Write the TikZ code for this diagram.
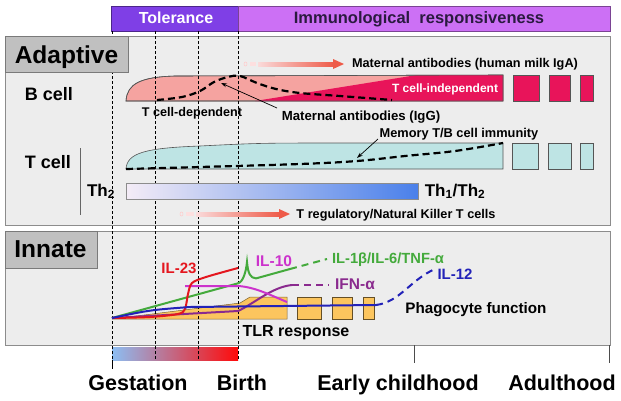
\documentclass[tikz,border=0pt]{standalone}
\usepackage{fontspec}
\setmainfont{Liberation Sans}
\usetikzlibrary{arrows.meta}
\newcommand\myfs[1]{\fontsize{#1}{#1}\selectfont\bfseries}
\definecolor{tolc}{HTML}{7F3FE6}
\definecolor{immc}{HTML}{CC70F5}
\definecolor{immt}{HTML}{2B1A40}
\definecolor{panelc}{HTML}{EDEDED}
\definecolor{panelb}{HTML}{8C8C8C}
\definecolor{tagc}{HTML}{C0C0C0}
\definecolor{tagb}{HTML}{7A7A7A}
\definecolor{pinkc}{HTML}{F5A3A0}
\definecolor{magc}{HTML}{E8145A}
\definecolor{tealc}{HTML}{BEE4E4}
\definecolor{orc}{HTML}{FCC55E}
\definecolor{arrL}{HTML}{FADADA}
\definecolor{arrR}{HTML}{EE5A48}
\definecolor{thL}{HTML}{F4ECF6}
\definecolor{thR}{HTML}{4A80EA}
\definecolor{gbL}{HTML}{8CBEF3}
\definecolor{gbM}{HTML}{C98FC0}
\definecolor{gbR}{HTML}{FF0A0A}
\definecolor{redc}{HTML}{E4161E}
\definecolor{magl}{HTML}{CC33CC}
\definecolor{grnc}{HTML}{44AA3C}
\definecolor{purc}{HTML}{8A2A8E}
\definecolor{bluc}{HTML}{2222B8}
\definecolor{shapeb}{HTML}{555555}
\begin{document}
\begin{tikzpicture}[x=1pt,y=-1pt,
  lbl/.style={inner sep=0pt, anchor=base},
  vdash/.style={dash pattern=on 3pt off 2pt, line width=0.6pt, black},
  panel/.style={fill=panelc, draw=panelb, line width=0.9pt},
  tagbox/.style={fill=tagc, draw=tagb, line width=0.9pt},
  shp/.style={draw=shapeb, line width=0.6pt},
  bdash/.style={black, line width=2.2pt, dash pattern=on 7pt off 4pt},
  curve/.style={line width=2pt},
  cdash/.style={line width=2pt, dash pattern=on 7pt off 5pt},
  ptr/.style={-{Stealth[length=6pt,width=4pt]}, line width=0.7pt, black}]
\useasboundingbox (0,0) rectangle (621,400);
\fill[white] (0,0) rectangle (621,400);
% top bar
\draw[fill=tolc, draw=tolc!60!black, line width=0.6pt] (111,6) rectangle (238,31);
\draw[fill=immc, draw=immc!60!black, line width=0.6pt] (238,6) rectangle (610,31);
% panels
\draw[panel] (5,36) rectangle (610,225);
\draw[panel] (5,231) rectangle (610,345);
% B cell shapes
\draw[shp, fill=pinkc] (126,101) .. controls (127,84) and (140,77) .. (175,76) -- (503,75) -- (503,101) -- cycle;
\fill[magc] (255,101) -- (417,75) -- (503,75) -- (503,101) -- cycle;
\draw[shp] (126,101) .. controls (127,84) and (140,77) .. (175,76) -- (503,75) -- (503,101) -- cycle;
\foreach \a/\b in {513/539, 549/570, 580/593} \draw[shp, fill=magc] (\a,75) rectangle (\b,101);
% T cell shapes
\draw[shp, fill=tealc] (126,169) .. controls (127,153) and (145,148) .. (200,146) .. controls (260,143) .. (350,143) -- (503,143) -- (503,169) -- cycle;
\foreach \a/\b in {512/538, 548/571, 580/593} \draw[shp, fill=tealc] (\a,143) rectangle (\b,169);
% innate orange shapes
\draw[draw=orc!50!black, line width=0.5pt, fill=orc] (112,319) -- (240,303) -- (250,297) -- (287,297) -- (287,319) -- cycle;
\foreach \a/\b in {297/321, 332/352, 363/374} \draw[draw=orc!40!black, line width=0.6pt, fill=orc] (\a,297) rectangle (\b,319);
% bottom gradient bar
\shade[left color=gbL, middle color=gbM, right color=gbR] (112,347) rectangle (238,360);
% vertical dashed lines
\foreach \x in {112,155,198,238} \draw[vdash] (\x,31) -- (\x,360);
% ticks
\draw[black, line width=0.6pt] (112,360) -- (112,369);
\draw[black!70, line width=0.8pt] (414,345) -- (414,363);
\draw[black!70, line width=0.8pt] (609,345) -- (609,363);
% dashed IgG curve
\draw[bdash] plot[smooth, tension=0.6] coordinates {(157,100) (182,97) (200,91) (214,82) (228,77) (240,76) (257,83) (276,89) (300,93) (340,96) (392,100)};
% memory curve
\draw[bdash] plot[smooth, tension=0.6] coordinates {(126,169) (200,167) (300,164) (357,161) (405,156) (455,151) (503,143)};
% Th2 bar
\shade[left color=thL, right color=thR, draw=panelb, line width=0.6pt] (126,183) rectangle (418,199);
\draw[panelb, line width=0.6pt] (126,183) rectangle (418,199);
% T cell vertical bar
\draw[black!60, line width=1pt] (80,148) -- (80,215);
% innate curves
\draw[curve, grnc] (112,318) -- (238,283.3) .. controls (243,282) and (246,272) .. (247,262) .. controls (248,273) and (250,278) .. (256,278.4) -- (290,269);
\draw[cdash, grnc] (290,269) -- (327,259);
\draw[curve, purc] (112,318) -- (238,311) .. controls (255,303) and (272,287) .. (292,285);
\draw[cdash, purc] (292,285) -- (329,285);
\draw[curve, magl] (185,286) -- (238,286) .. controls (255,287) and (270,295) .. (287,302);
\draw[curve, redc] plot[smooth, tension=0.5] coordinates {(112,318) (150,317) (178,314) (185,309) (188,294) (192,283) (206,277) (238,268)};
\draw[curve, bluc] (112,318) .. controls (150,310) .. (190,307) -- (376,305);
\draw[cdash, bluc] (376,305) .. controls (400,302) and (410,280) .. (435,269);
% tag boxes
\draw[tagbox] (5,36) rectangle (128,72);
\draw[tagbox] (5,231) rectangle (97,268);
% pink gradient arrows
\draw[arrL!60!red!40, line width=0.6pt] (245.5,64) ellipse (1.5 and 2);
\fill[arrL!80!red!40] (250,62) rectangle (256,66);
\shade[left color=arrL, right color=arrR] (258,62) rectangle (334,66);
\fill[arrR] (333,59) -- (344,64) -- (333,69) -- cycle;
\draw[arrL!60!red!40, line width=0.6pt] (181.5,214) ellipse (1.5 and 2);
\fill[arrL!80!red!40] (186,212) rectangle (194,216);
\shade[left color=arrL, right color=arrR] (196,212) rectangle (280,216);
\fill[arrR] (279,209) -- (290,214) -- (279,219) -- cycle;
% texts
\node[lbl, white, font=\myfs{16}] (tol) at (176,23.7) {Tolerance};
\node[lbl, immt, font=\myfs{16.5}] (imm) at (419,23.9) {Immunological\ \ responsiveness};
\node[lbl, font=\myfs{24.5}] (adap) at (66.5,63) {Adaptive};
\node[lbl, font=\myfs{24.5}] (innate) at (50.5,257) {Innate};
\node[lbl, font=\myfs{18}] (bcell) at (49,100) {B cell};
\node[lbl, font=\myfs{18}] (tcell) at (48,168) {T cell};
\node[lbl, font=\myfs{12.7}] (iga) at (465,67) {Maternal antibodies (human milk IgA)};
\node[lbl, white, font=\myfs{12}] (tind) at (445,92) {T cell-independent};
\node[lbl, font=\myfs{12.6}] (tdep) at (192,116) {T cell-dependent};
\node[lbl, font=\myfs{13.2}] (igg) at (361,120) {Maternal antibodies (IgG)};
\node[lbl, font=\myfs{12.8}] (mem) at (459,137) {Memory T/B cell immunity};
\node[lbl, font=\myfs{17}] (th2) at (101,196) {Th\textsubscript{2}};
\node[lbl, font=\myfs{17}] (th12) at (455,196) {Th\textsubscript{1}/Th\textsubscript{2}};
\node[lbl, font=\myfs{12.7}] (treg) at (396,218) {T regulatory/Natural Killer T cells};
\node[lbl, redc, font=\myfs{15}] (il23) at (179,273) {IL-23};
\node[lbl, magl, font=\myfs{15.5}] (il10) at (274,266) {IL-10};
\node[lbl, grnc, font=\myfs{14.7}] (il1) at (388,263) {IL-1β/IL-6/TNF-α};
\node[lbl, purc, font=\myfs{15.5}] (ifn) at (355,289) {IFN-α};
\node[lbl, bluc, font=\myfs{15}] (il12) at (455,279) {IL-12};
\node[lbl, font=\myfs{15.2}] (phago) at (476,313) {Phagocyte function};
\node[lbl, font=\myfs{16}] (tlr) at (296,336) {TLR response};
\node[lbl, font=\myfs{21.5}] (gest) at (138,390) {Gestation};
\node[lbl, font=\myfs{21.5}] (birth) at (242,390) {Birth};
\node[lbl, font=\myfs{21.5}] (early) at (398,390) {Early childhood};
\node[lbl, font=\myfs{21.5}] (adult) at (562,390) {Adulthood};
% pointer arrows
\coordinate (iggtail) at (277,108);
\coordinate (igghead) at (221,83);
\draw[ptr] (iggtail) -- (igghead);
\coordinate (memtail) at (378,139);
\coordinate (memhead) at (357,158);
\draw[ptr] (memtail) -- (memhead);
\end{tikzpicture}
\end{document}
